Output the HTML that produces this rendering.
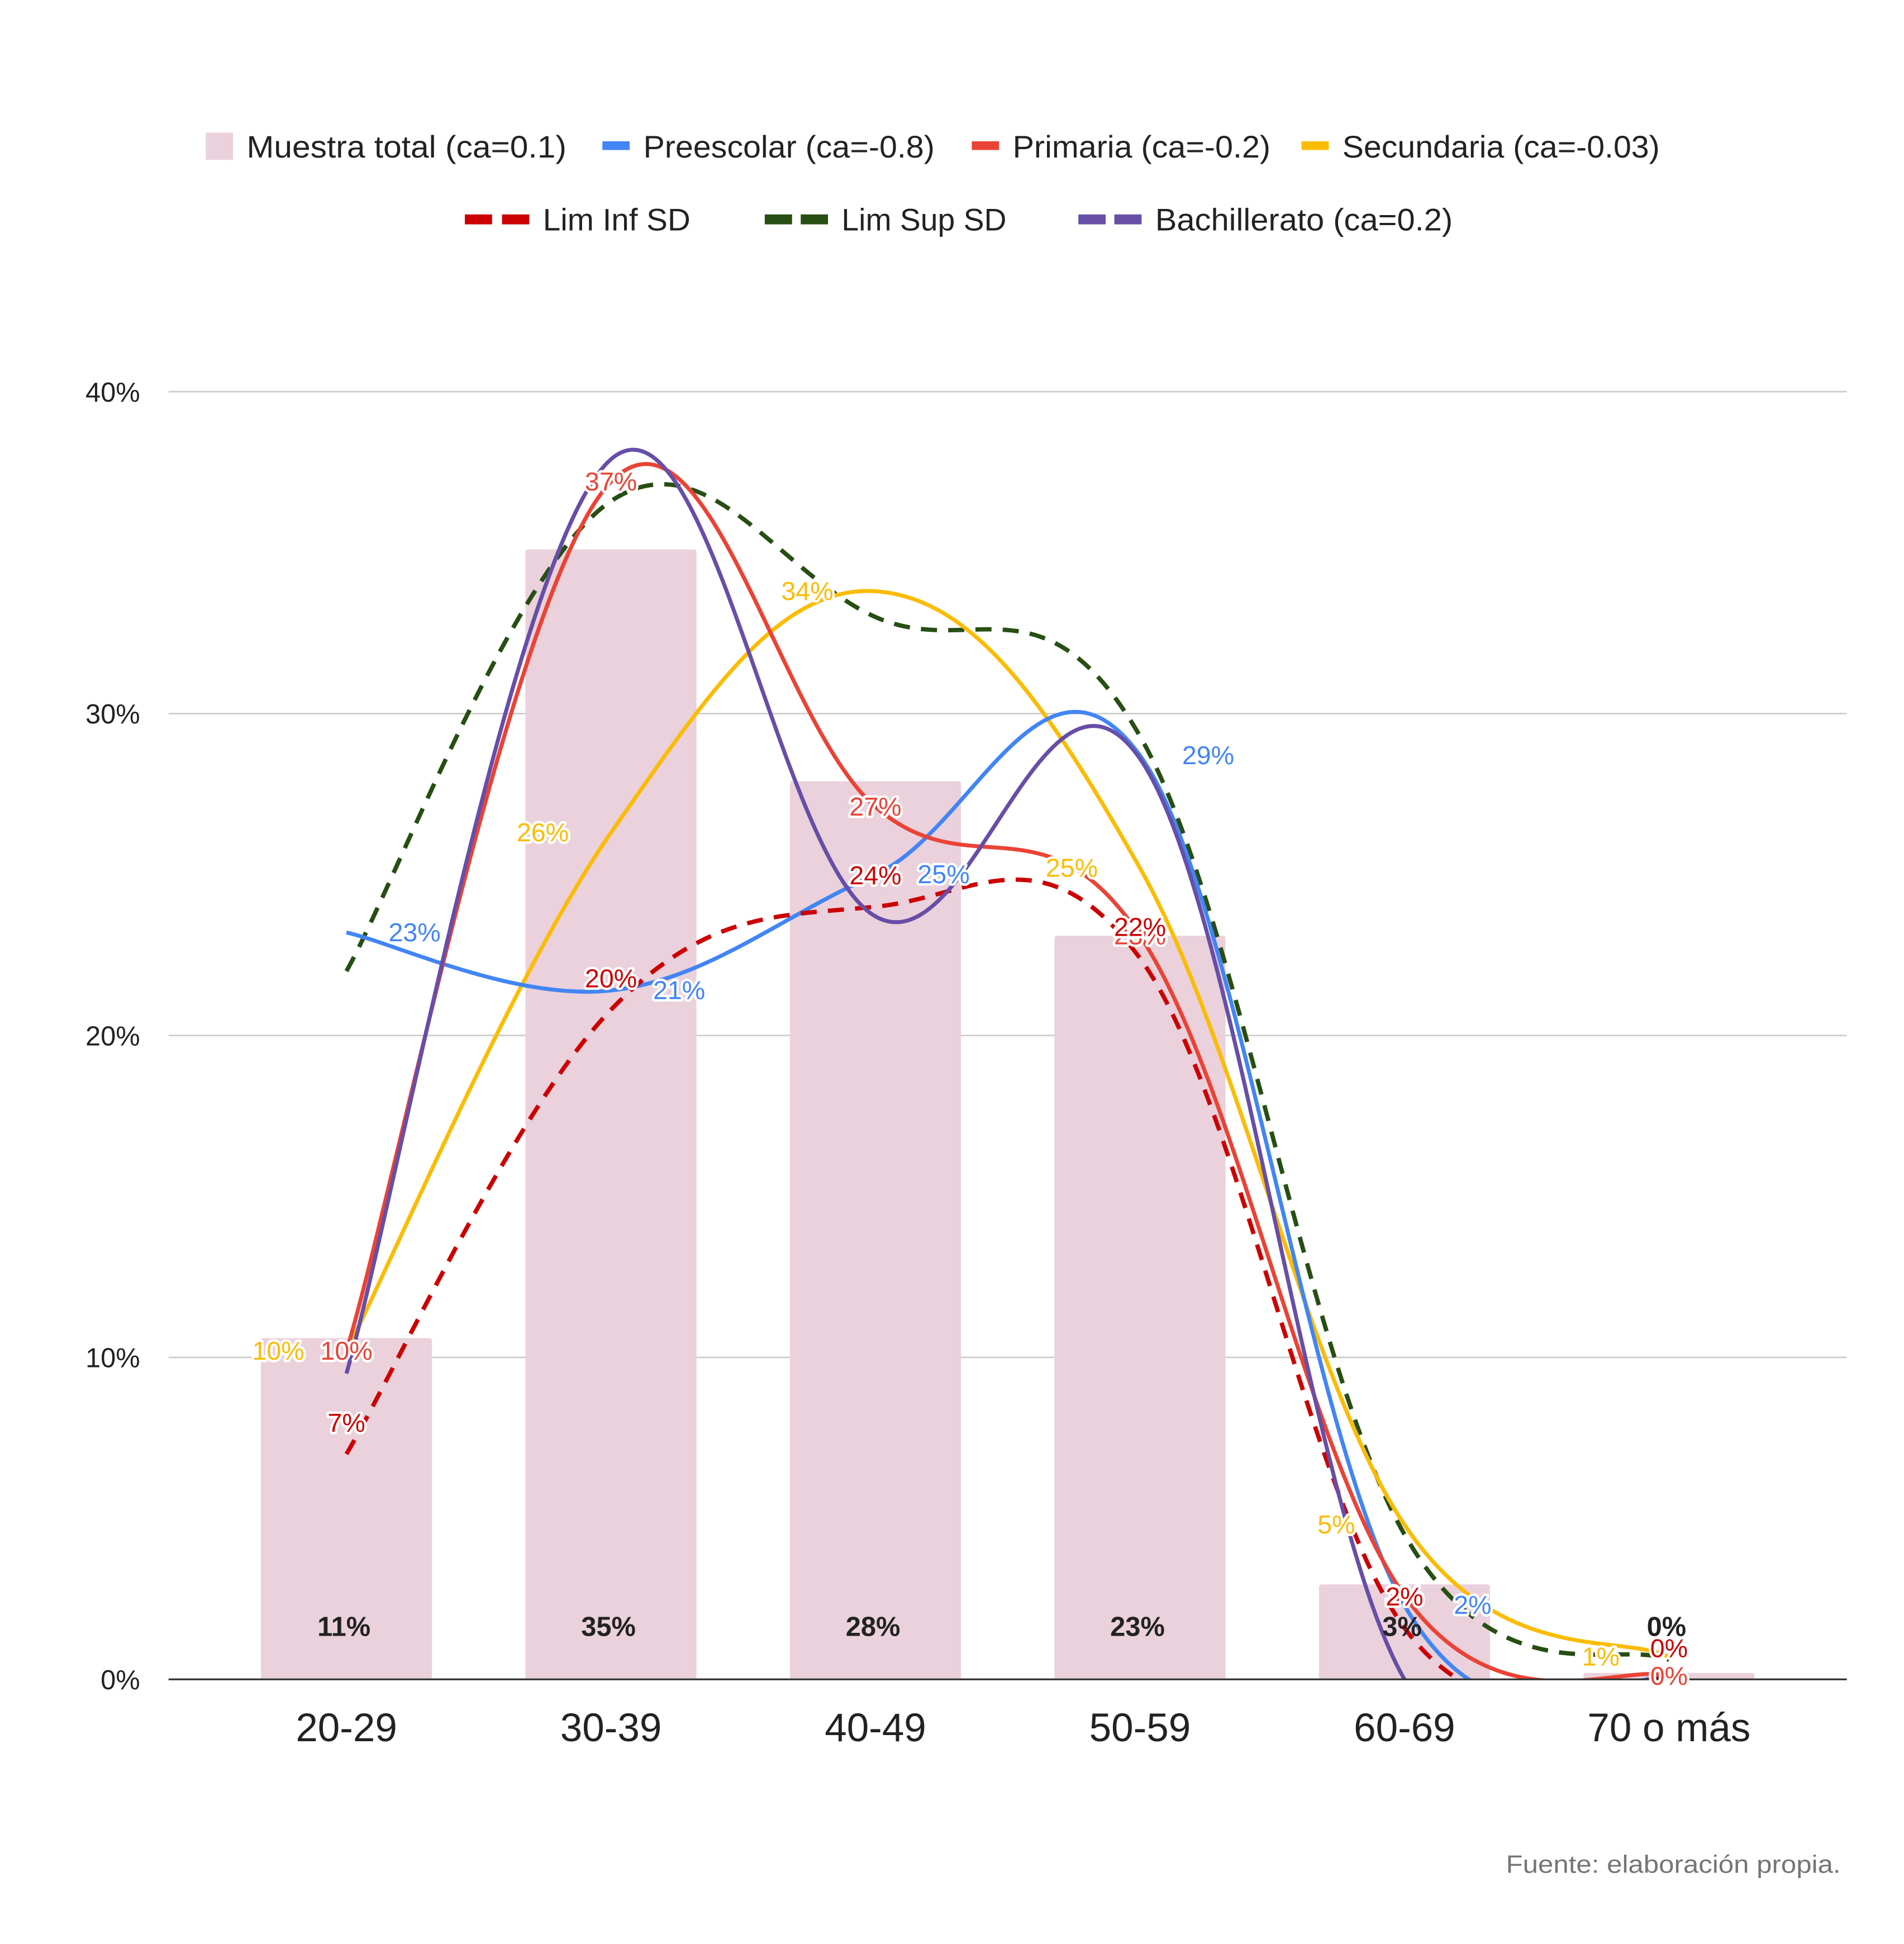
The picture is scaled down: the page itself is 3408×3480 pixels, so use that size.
<!DOCTYPE html>
<html><head><meta charset="utf-8"><style>
html,body{margin:0;padding:0;background:#fff;}
svg{display:block;font-family:"Liberation Sans",sans-serif;}
</style></head><body>
<svg id="chart" width="3408" height="3480" viewBox="0 0 1536.1 1568.5" xmlns="http://www.w3.org/2000/svg">
<defs><clipPath id="plotclip"><rect x="136" y="200" width="1354" height="1155"/></clipPath></defs>
<rect x="0" y="0" width="1540" height="1570" fill="#fff"/>
<g id="grid"></g>
<g id="bars"></g>
<g id="lines" clip-path="url(#plotclip)"></g>
<line x1="136" y1="1355" x2="1490" y2="1355" stroke="#333" stroke-width="1.5"/>
<g id="labels"></g>
<g id="xlabels"></g>
<g id="legend">
  <g><rect x="166" y="107" width="22" height="22" fill="#ead1dc"/><text x="199" y="127" font-size="25" fill="#222" textLength="258" lengthAdjust="spacingAndGlyphs">Muestra total (ca=0.1)</text></g>
  <g><rect x="486" y="114" width="22" height="7" fill="#4285f4"/><text x="519" y="127" font-size="25" fill="#222" textLength="235" lengthAdjust="spacingAndGlyphs">Preescolar (ca=-0.8)</text></g>
  <g><rect x="784" y="114" width="22" height="7" fill="#ea4335"/><text x="817" y="127" font-size="25" fill="#222" textLength="208" lengthAdjust="spacingAndGlyphs">Primaria (ca=-0.2)</text></g>
  <g><rect x="1050" y="114" width="22" height="7" fill="#fbbc04"/><text x="1083" y="127" font-size="25" fill="#222" textLength="256" lengthAdjust="spacingAndGlyphs">Secundaria (ca=-0.03)</text></g>
  <g><rect x="375" y="173" width="22" height="8" fill="#cc0000"/><rect x="405" y="173" width="22" height="8" fill="#cc0000"/><text x="438" y="186" font-size="25" fill="#222" textLength="119" lengthAdjust="spacingAndGlyphs">Lim Inf SD</text></g>
  <g><rect x="617" y="173" width="22" height="8" fill="#274e13"/><rect x="646" y="173" width="22" height="8" fill="#274e13"/><text x="679" y="186" font-size="25" fill="#222" textLength="133" lengthAdjust="spacingAndGlyphs">Lim Sup SD</text></g>
  <g><rect x="870" y="173" width="22" height="8" fill="#674ea7"/><rect x="899" y="173" width="22" height="8" fill="#674ea7"/><text x="932" y="186" font-size="25" fill="#222" textLength="240" lengthAdjust="spacingAndGlyphs">Bachillerato (ca=0.2)</text></g>
</g>
<text x="1215" y="1511" font-size="20" fill="#757575" textLength="270" lengthAdjust="spacingAndGlyphs">Fuente: elaboración propia.</text>
</svg>
<script>
const categories = ["20-29","30-39","40-49","50-59","60-69","70 o más"];
const muestraTotal = [10.6, 35.1, 27.9, 23.1, 2.95, 0.2];
const muestraLabels = ["11%","35%","28%","23%","3%","0%"];
const preescolar = [23.2, 21.4, 25.0, 28.7, 2.3, 0];
const preescolarLabels = ["23%","21%","25%","29%","2%",""];
const primaria = [10.2, 37.2, 27.1, 23.1, 2.6, 0.1];
const primariaLabels = ["10%","37%","27%","23%","3%","0%"];
const secundaria = [10.2, 26.3, 33.8, 25.2, 4.8, 0.7];
const secundariaLabels = ["10%","26%","34%","25%","5%","1%"];
const limInf = [7.0, 20.8, 24.0, 22.4, 1.6, 0];
const limInfLabels = ["7%","20%","24%","22%","2%","0%"];
const limSup = [22.0, 36.6, 33.0, 29.3, 4.5, 0.6];
const bachillerato = [9.5, 37.9, 23.7, 28.6, 0, 0];
const yTicks = [0, 10, 20, 30, 40];

const NS = "http://www.w3.org/2000/svg";
function xPos(i){ return 279.5 + i*213.4; }
function yPos(v){ return 1355 - v*(1039/40); }
function mk(tag, attrs, parent){ const e=document.createElementNS(NS,tag); for(const k in attrs) e.setAttribute(k,attrs[k]); parent.appendChild(e); return e; }

const grid=document.getElementById('grid');
yTicks.forEach(t=>{
  if(t>0){ const l=mk('line',{x1:136,x2:1490,y1:yPos(t),y2:yPos(t),stroke:'#ccc','stroke-width':1.2},grid);
    
     }
  const tx=mk('text',{x:113,y:yPos(t)+8,'font-size':22,fill:'#222','text-anchor':'end'},grid);
  tx.textContent=t+'%';
  
  
});

const bars=document.getElementById('bars');
muestraTotal.forEach((v,i)=>{
  const r=mk('rect',{x:xPos(i)-69,y:yPos(v),width:138,height:1355-yPos(v),fill:'#ead1dc',rx:2},bars);
  
  
});

function pathFor(vals){
  const p=vals.map((v,i)=>[xPos(i),yPos(v)]);
  let d='M'+p[0][0]+','+p[0][1];
  for(let i=0;i<p.length-1;i++){
    const p0=p[Math.max(0,i-1)],p1=p[i],p2=p[i+1],p3=p[Math.min(p.length-1,i+2)];
    const t=1/5.5;
    const c1=[p1[0]+(p2[0]-p0[0])*t, p1[1]+(p2[1]-p0[1])*t];
    const c2=[p2[0]-(p3[0]-p1[0])*t, p2[1]-(p3[1]-p1[1])*t];
    d+=' C'+c1.join(',')+' '+c2.join(',')+' '+p2.join(',');
  }
  return d;
}
const lines=document.getElementById('lines');
const series=[
  ['line-lim-sup-sd',limSup,'#274e13','13,9',3.5],
  ['line-secundaria',secundaria,'#fbbc04','',3.2],
  ['line-preescolar',preescolar,'#4285f4','',3.2],
  ['line-primaria',primaria,'#ea4335','',3.2],
  ['line-lim-inf-sd',limInf,'#cc0000','13,9',3.5],
  ['line-bachillerato',bachillerato,'#674ea7','',3.2]
];
series.forEach(s=>{
  const a={d:pathFor(s[1]),fill:'none',stroke:s[2],'stroke-width':s[4]};
  if(s[3]) a['stroke-dasharray']=s[3];
  const p=mk('path',a,lines);
  
  
});

const labels=document.getElementById('labels');
function lab(vals,texts,color,dx,dy,name,bold){
  vals.forEach((v,i)=>{
    if(!texts[i]) return;
    const t=mk('text',{x:xPos(i)+dx,y:yPos(v)+dy,'font-size':21,fill:color,'text-anchor':'middle',stroke:'#fff','stroke-width':4,'paint-order':'stroke','stroke-linejoin':'round'},labels);
    if(bold) t.setAttribute('font-weight','bold');
    t.textContent=texts[i];
    
    
  });
}
lab(preescolar,preescolarLabels,'#4285f4',55,7,'preescolar');
lab(secundaria,secundariaLabels,'#fbbc04',-55,7,'secundaria');
lab(primaria,primariaLabels,'#ea4335',0,7,'primaria');
lab(limInf,limInfLabels,'#cc0000',0,-18,'lim-inf');
muestraTotal.forEach((v,i)=>{
  const t=mk('text',{x:xPos(i)-2,y:1320,'font-size':22,'font-weight':'bold',fill:'#222','text-anchor':'middle'},labels);
  t.textContent=muestraLabels[i];
  
  
});

const xl=document.getElementById('xlabels');
categories.forEach((c,i)=>{
  const t=mk('text',{x:xPos(i),y:1405,'font-size':32,fill:'#222','text-anchor':'middle'},xl);
  t.textContent=c;
  
  
});
</script>
</body></html>
